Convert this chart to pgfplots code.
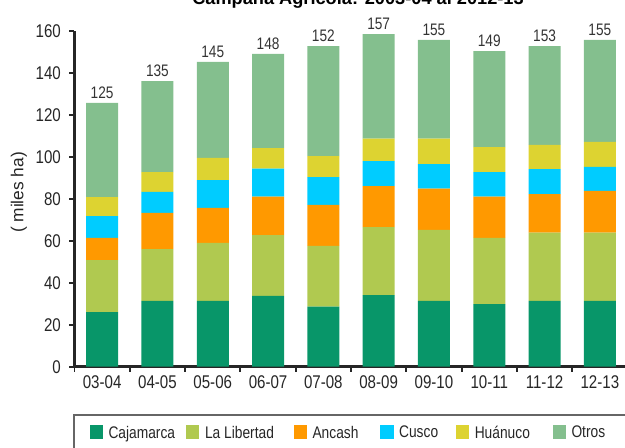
\documentclass[border=0pt]{standalone}
\usepackage{pgfplots}
\pgfplotsset{compat=1.18}
\usepackage{pgfplotstable}
\usepackage{fontspec}
\setmainfont{Liberation Sans}
\newfontfamily\narrow{Liberation Sans}[FakeStretch=0.82]
\definecolor{caj}{RGB}{8,150,105}
\definecolor{lib}{RGB}{176,201,80}
\definecolor{anc}{RGB}{255,153,0}
\definecolor{cus}{RGB}{0,204,255}
\definecolor{hua}{RGB}{221,211,49}
\definecolor{otr}{RGB}{132,191,142}
\pgfplotstableread{
x caj ll anc cus hua otr top tot
0 26.0 24.8 10.5 10.4 9.1 44.8 125.6 125
1 31.3 24.7 17.3 9.9 9.5 43.3 136.0 135
2 31.3 27.7 16.6 13.3 10.5 45.7 145.1 145
3 33.7 29.0 18.3 13.3 9.8 44.8 148.9 148
4 28.6 28.9 19.6 13.2 10.0 52.4 152.7 152
5 34.1 32.4 19.5 11.9 10.7 49.8 158.4 157
6 31.3 33.8 19.7 11.7 12.1 47.0 155.6 155
7 29.8 31.5 19.7 11.7 11.9 45.7 150.3 149
8 31.3 32.5 18.4 11.9 11.5 47.1 152.7 153
9 31.3 32.5 19.9 11.4 11.9 48.6 155.6 155
}\data
\begin{document}
\begin{tikzpicture}
\begin{axis}[
  at={(55.875pt,60.975pt)}, anchor=south west,
  scale only axis, width=414.75pt, height=252pt,
  ybar stacked, bar width=24pt,
  legend image code/.code={\fill[#1,draw=none] (0pt,-5pt) rectangle (10pt,5pt);},
  xmin=-0.5, xmax=9.5, ymin=0, ymax=160,
  xtick={0,...,9},
  xticklabels={03-04,04-05,05-06,06-07,07-08,08-09,09-10,10-11,11-12,12-13},
  minor xtick={-0.5,0.5,...,9.5},
  ytick={0,20,...,160},
  axis x line*=bottom, axis y line*=left,
  axis line style={line width=1.8pt, black!85, -},
  tick align=outside,
  major tick length=3.75pt, minor tick length=3.75pt,
  major x tick style={draw=none},
  minor x tick style={line width=1.4pt, black!85},
  ytick style={line width=1.4pt, black!85},
  /pgf/number format/assume math mode=true,
  tick label style={font=\narrow\fontsize{13.8}{16}\selectfont, text=black!85},
  xticklabel style={anchor=north, inner sep=0pt, yshift=-2.5pt},
  yticklabel style={anchor=east, inner sep=0pt, xshift=-6.3pt},
  ylabel={( miles ha)},
  ylabel style={at={(axis description cs:-0.1004,0.5185)}, anchor=center, font=\fontsize{13}{15}\selectfont, text=black!85},
  legend columns=6,
  legend style={draw=none, fill=none, at={(axis description cs:0.0268,-0.1943)}, anchor=west,
    inner sep=0pt,
    nodes={inner sep=0pt, text depth=0pt, font=\narrow\fontsize{12.6}{14}\selectfont, text=black!85},
    /tikz/every odd column/.style={column sep=4.2pt},
    /tikz/column 2/.style={column sep=8.25pt},
    /tikz/column 4/.style={column sep=14.7pt},
    /tikz/column 6/.style={column sep=16.3pt},
    /tikz/column 8/.style={column sep=13.25pt},
    /tikz/column 10/.style={column sep=17pt}},
  clip=false,
]
\addplot[fill=caj, draw=none] table[x=x,y=caj] {\data};
\addlegendentry{Cajamarca}
\addplot[fill=lib, draw=none] table[x=x,y=ll] {\data};
\addlegendentry{La Libertad}
\addplot[fill=anc, draw=none] table[x=x,y=anc] {\data};
\addlegendentry{Ancash}
\addplot[fill=cus, draw=none] table[x=x,y=cus] {\data};
\addlegendentry{Cusco}
\addplot[fill=hua, draw=none] table[x=x,y=hua] {\data};
\addlegendentry{Huánuco}
\addplot[fill=otr, draw=none] table[x=x,y=otr] {\data};
\addlegendentry{Otros}
\end{axis}
\begin{axis}[
  at={(55.875pt,60.975pt)}, anchor=south west,
  scale only axis, width=414.75pt, height=252pt,
  xmin=-0.5, xmax=9.5, ymin=0, ymax=160,
  hide axis, clip=false,
]
\addplot[draw=none, mark=none, nodes near coords, point meta=explicit symbolic,
  every node near coord/.append style={font=\narrow\fontsize{12.5}{14}\selectfont, text=black!80, anchor=south, inner sep=0pt, yshift=2.8pt}]
  table[x=x,y=top,meta=tot] {\data};
\end{axis}
\node[anchor=base, font=\bfseries\fontsize{13.65}{16}\selectfont] at (268.5pt,332.6pt) {Campaña Agrícola: 2003-04 al 2012-13};
\draw[line width=1.5pt, black!60] (55.3pt,24.75pt) rectangle (520pt,-30pt);
\pgfresetboundingbox
\useasboundingbox (0,0) rectangle (468.75pt,336pt);
\end{tikzpicture}
\end{document}
